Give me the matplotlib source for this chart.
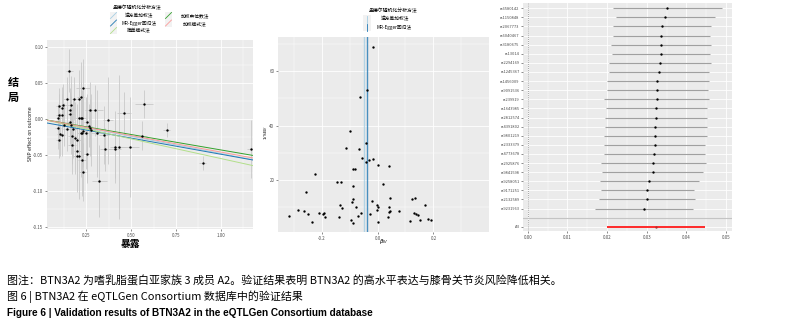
import matplotlib
matplotlib.use("Agg")
import matplotlib.pyplot as plt
import numpy as np
from matplotlib.lines import Line2D
from matplotlib.patches import Rectangle
from matplotlib import font_manager

plt.rcParams["font.family"] = ["Noto Sans CJK SC", "DejaVu Sans"]
plt.rcParams["axes.unicode_minus"] = False

W, H = 803, 331

# ---- scatter: SNP effect on exposure vs outcome ----
sc_bx = [0.157, 0.232, 0.143, 0.183, 0.209, 0.220, 0.124, 0.165, 0.098, 0.117,
         0.163, 0.272, 0.302, 0.572, 0.461, 0.098, 0.117, 0.163, 0.210, 0.220,
         0.230, 0.096, 0.161, 0.257, 0.265, 0.272, 0.372, 0.130, 0.166, 0.143,
         0.178, 0.094, 0.106, 0.117, 0.098, 0.172, 0.187, 0.202, 0.220, 0.228,
         0.235, 0.250, 0.276, 0.309, 0.350, 0.172, 0.202, 0.209, 0.198, 0.228,
         0.257, 0.232, 0.324, 0.357, 0.413, 0.413, 0.432, 0.494, 0.561, 0.698,
         0.898, 1.165]
sc_by = [0.067, 0.043, 0.028, 0.028, 0.028, 0.030, 0.019, 0.020, 0.018, 0.015,
         0.013, 0.012, 0.012, 0.021, 0.008, 0.005, 0.005, 0.007, 0.001, 0.001,
         0.001, 0.001, -0.0045, -0.0045, -0.009, -0.012, -0.002, -0.008, -0.008, -0.014,
         -0.014, -0.012, -0.021, -0.022, -0.029, -0.023, -0.026, -0.029, -0.020, -0.019,
         -0.017, -0.020, -0.015, -0.020, -0.022, -0.036, -0.045, -0.051, -0.051, -0.057,
         -0.049, -0.074, -0.086, -0.042, -0.039, -0.042, -0.039, -0.039, -0.023, -0.015,
         -0.061, -0.042]
sc_sx = [0.02, 0.04, 0.02, 0.02, 0.02, 0.02, 0.02, 0.02, 0.015, 0.015,
         0.02, 0.03, 0.04, 0.05, 0.04, 0.015, 0.015, 0.02, 0.02, 0.02,
         0.02, 0.015, 0.02, 0.02, 0.02, 0.03, 0.03, 0.02, 0.02, 0.02,
         0.02, 0.015, 0.015, 0.015, 0.015, 0.02, 0.02, 0.02, 0.02, 0.02,
         0.02, 0.02, 0.03, 0.03, 0.03, 0.02, 0.02, 0.02, 0.02, 0.02,
         0.02, 0.02, 0.04, 0.03, 0.03, 0.03, 0.04, 0.05, 0.03, 0.02,
         0.02, 0.02]
sc_sy = [0.03, 0.04, 0.03, 0.03, 0.04, 0.05, 0.03, 0.04, 0.025, 0.03,
         0.03, 0.04, 0.035, 0.02, 0.03, 0.03, 0.03, 0.03, 0.04, 0.05,
         0.04, 0.02, 0.03, 0.04, 0.03, 0.04, 0.06, 0.03, 0.04, 0.03,
         0.04, 0.03, 0.03, 0.03, 0.025, 0.04, 0.05, 0.05, 0.06, 0.05,
         0.05, 0.05, 0.05, 0.06, 0.04, 0.04, 0.04, 0.06, 0.05, 0.05,
         0.04, 0.04, 0.05, 0.03, 0.05, 0.04, 0.10, 0.07, 0.02, 0.01,
         0.01, 0.04]

# MR method lines (intercept, slope)
methods = ["逆方差加权法", "MR-Egger回归法", "简单模式法", "加权中位数法", "加权模式法"]
method_colors = ["#a6cee3", "#1f78b4", "#b2df8a", "#33a02c", "#fb9a99"]
method_icpt = [0.0, -0.004, 0.0, 0.0, 0.0]
method_slope = [-0.048, -0.045, -0.055, -0.043, -0.046]

sc_xticks = [0.25, 0.50, 0.75, 1.00]
sc_xlabels = ["0.25", "0.50", "0.75", "1.00"]
sc_yticks = [-0.15, -0.10, -0.05, 0.00, 0.05, 0.10]
sc_ylabels = ["-0.15", "-0.10", "-0.05", "0.00", "0.05", "0.10"]

# ---- funnel plot ----
fun_b = [-0.017, -0.038, -0.065, -0.099, -0.041, -0.114, -0.067, -0.057, -0.042, -0.032,
         -0.015, 0.000, 0.041, -0.090, -0.082, -0.224, -0.145, -0.130, -0.087, 0.019,
         -0.256, 0.046, -0.089, -0.093, -0.020, 0.123, 0.133, -0.134, -0.129, -0.076,
         -0.002, 0.001, 0.040, 0.044, 0.040, -0.004, 0.078, 0.170, -0.263, -0.249,
         -0.209, -0.197, -0.191, -0.189, -0.237, -0.140, -0.096, -0.090, -0.071, -0.061,
         -0.029, 0.000, 0.036, 0.130, 0.138, 0.146, 0.117, 0.153, 0.182, 0.190,
         -0.317, -0.286]
fun_w = [69.1, 53.0, 50.6, 37.9, 33.4, 31.6, 31.5, 28.1, 26.6, 27.3,
         27.8, 25.3, 25.0, 24.1, 24.1, 22.2, 19.0, 19.0, 17.8, 18.5,
         15.3, 13.4, 12.8, 11.8, 12.2, 12.8, 13.3, 10.7, 9.7, 10.1,
         10.5, 10.1, 10.1, 8.6, 8.1, 9.0, 8.6, 10.7, 8.3, 7.3,
         7.8, 7.4, 7.7, 6.1, 4.4, 6.2, 5.2, 4.1, 6.6, 7.8,
         7.3, 4.3, 6.1, 7.8, 7.3, 6.8, 4.8, 5.2, 5.6, 5.1,
         6.6, 8.8]
fun_methods = ["逆方差加权法", "MR-Egger回归法"]
fun_colors = ["#a6cee3", "#1f78b4"]
fun_est = [-0.0485, -0.0375]
fun_xticks = [-0.2, 0.0, 0.2]
fun_xlabels = ["-0.2", "0.0", "0.2"]
fun_yticks = [20, 40, 60]
fun_ylabels = ["20", "40", "60"]

# ---- forest plot ----
snp_labels = ["rs6580142", "rs1150848", "rs2067773", "rs6040467", "rs3180675",
              "rs13014", "rs2294169", "rs1245367", "rs1456009", "rs9091536",
              "rs239919", "rs1643985", "rs2812574", "rs4391802", "rs9801219",
              "rs2333379", "rs4773678", "rs2925876", "rs9841598", "rs9258051",
              "rs9171251", "rs2132589", "rs9231963"]
snp_b = [0.0352, 0.0346, 0.0338, 0.0337, 0.0336, 0.0335, 0.0333, 0.0331, 0.0327, 0.0326,
         0.0325, 0.0324, 0.0324, 0.0322, 0.0321, 0.0320, 0.0318, 0.0316, 0.0315, 0.0306,
         0.0301, 0.0300, 0.0292]
snp_lo = [0.0216, 0.0222, 0.0214, 0.0216, 0.0210, 0.0212, 0.0205, 0.0205, 0.0199, 0.0199,
          0.0193, 0.0197, 0.0196, 0.0195, 0.0193, 0.0193, 0.0191, 0.0185, 0.0187, 0.0182,
          0.0185, 0.0180, 0.0170]
snp_hi = [0.0489, 0.0472, 0.0463, 0.0459, 0.0463, 0.0459, 0.0461, 0.0457, 0.0457, 0.0454,
          0.0457, 0.0452, 0.0452, 0.0451, 0.0451, 0.0448, 0.0447, 0.0449, 0.0443, 0.0431,
          0.0419, 0.0421, 0.0416]
all_label = "All"
all_b, all_lo, all_hi = 0.0323, 0.0200, 0.0448
fo_xticks = [0.00, 0.01, 0.02, 0.03, 0.04, 0.05]
fo_xlabels = ["0.00", "0.01", "0.02", "0.03", "0.04", "0.05"]

caption_1 = "图注：BTN3A2 为嗜乳脂蛋白亚家族 3 成员 A2。验证结果表明 BTN3A2 的高水平表达与膝骨关节炎风险降低相关。"
caption_2 = "图 6 | BTN3A2 在 eQTLGen Consortium 数据库中的验证结果"
caption_3 = "Figure 6 | Validation results of BTN3A2 in the eQTLGen Consortium database"


def box(x0, y0, x1, y1):
    return [x0 / W, 1 - y1 / H, (x1 - x0) / W, (y1 - y0) / H]


def fp(px, py):
    return px / W, 1 - py / H


def gg_style(ax, xt, xl, yt, yl, xminor, yminor):
    ax.set_facecolor("#EBEBEB")
    for s in ax.spines.values():
        s.set_visible(False)
    ax.set_xticks(xt, xl)
    ax.set_yticks(yt, yl)
    ax.set_xticks(xminor, minor=True)
    ax.set_yticks(yminor, minor=True)
    ax.grid(which="major", color="white", lw=0.6)
    ax.grid(which="minor", color="white", lw=0.3)
    ax.set_axisbelow(True)
    ax.tick_params(which="minor", length=0)
    ax.tick_params(which="major", length=1.6, width=0.4, color="#333333",
                   labelsize=3.2, labelcolor="#4D4D4D", pad=1)


def legend_key(fig, x0, y0, s, color, kind):
    fig.add_artist(Rectangle(fp(x0, y0 + s), s / W, s / H, transform=fig.transFigure,
                             facecolor="#F2F2F2", edgecolor="none"))
    if kind == "diag":
        xs, ys = [x0 + 0.5, x0 + s - 0.5], [y0 + s - 0.5, y0 + 0.5]
    else:
        xs, ys = [x0 + s / 2, x0 + s / 2], [y0 + 0.5, y0 + s - 0.5]
    fig.add_artist(Line2D([x / W for x in xs], [1 - y / H for y in ys],
                          transform=fig.transFigure, color=color, lw=0.6))


fig = plt.figure(figsize=(W / 100, H / 100), dpi=100)

# ---------------- left: scatter ----------------
ax1 = fig.add_axes(box(47, 40, 253, 229))
gg_style(ax1, sc_xticks, sc_xlabels, sc_yticks, sc_ylabels,
         [0.125, 0.375, 0.625, 0.875, 1.125],
         [-0.125, -0.075, -0.025, 0.025, 0.075])
ax1.errorbar(sc_bx, sc_by, xerr=sc_sx, yerr=sc_sy, fmt="none", ecolor="#c9c9c9",
             elinewidth=0.6, capsize=0, zorder=2)
for m, c, a, b in zip(methods, method_colors, method_icpt, method_slope):
    ax1.axline((0, a), slope=b, color=c, lw=0.7, zorder=3)
ax1.plot(sc_bx, sc_by, "o", color="black", ms=1.7, mew=0, zorder=4)
ax1.set_xlim(0.033, 1.178)
ax1.set_ylim(-0.153, 0.11)

fig.text(*fp(31, 134), "SNP effect on outcome", rotation=90, ha="center", va="center",
         fontsize=3.4, color="#222222", family=["DejaVu Sans"])
fig.text(*fp(13, 90), "结\n局", ha="center", va="center", fontsize=8,
         fontweight="bold", linespacing=1.25)
fig.text(*fp(130, 244), "暴露", ha="center", va="center", fontsize=7, fontweight="bold")

# legend for scatter
fig.text(*fp(137, 7.5), "孟德尔随机化分析方法", ha="center", va="center", fontsize=3.5)
leg_pos = [(110, 12, 139, 16), (110, 19.5, 139, 23.5), (110, 27, 139, 31),
           (165, 12, 195, 16), (165, 19.5, 195, 23.5)]
for m, c, (kx, ky, tx, ty) in zip(methods, method_colors, leg_pos):
    legend_key(fig, kx, ky, 7, c, "diag")
    fig.text(*fp(tx, ty), m, ha="center", va="center", fontsize=3.4)

# ---------------- middle: funnel ----------------
ax2 = fig.add_axes(box(278, 37, 489, 232))
gg_style(ax2, fun_xticks, fun_xlabels, fun_yticks, fun_ylabels,
         [-0.3, -0.1, 0.1, 0.3], [10, 30, 50, 70])
for m, c, e in zip(fun_methods, fun_colors, fun_est):
    ax2.axvline(e, color=c, lw=1.0, alpha=0.8, zorder=2)
ax2.plot(fun_b, fun_w, "o", color="black", ms=1.7, mew=0, zorder=4)
ax2.set_xlim(-0.358, 0.40)
ax2.set_ylim(0.7, 72.7)
fig.text(*fp(384, 241), r"$\beta_{IV}$", ha="center", va="center", fontsize=4)
fig.text(*fp(266.5, 132), r"1/SE$_{IV}$", rotation=90, ha="center", va="center",
         fontsize=3.2, family=["DejaVu Sans"])

fig.text(*fp(393, 10), "孟德尔随机化分析方法", ha="center", va="center", fontsize=3.5)
fun_leg = [(363, 15, 395, 19), (363, 23, 394, 27)]
for m, c, (kx, ky, tx, ty) in zip(fun_methods, fun_colors, fun_leg):
    legend_key(fig, kx, ky, 8, c, "vert")
    fig.text(*fp(tx, ty), m, ha="center", va="center", fontsize=3.4)

# ---------------- right: forest ----------------
ax3 = fig.add_axes(box(523, 3, 732, 231))
n = len(snp_labels)
rows = -np.arange(n)
all_row = -(n + 1)
gg_style(ax3, fo_xticks, fo_xlabels, list(rows) + [all_row], snp_labels + [all_label],
         [0.005, 0.015, 0.025, 0.035, 0.045], [])
ax3.axvline(0, color="#888888", lw=0.6, ls=(0, (1, 1.5)), zorder=2)
ax3.axhline(-n, color="#c4c4c4", lw=0.8, zorder=2)
ax3.hlines(rows, snp_lo, snp_hi, color="#a0a0a0", lw=0.8, zorder=3)
ax3.plot(snp_b, rows, "o", color="black", ms=1.7, mew=0, zorder=4)
ax3.hlines([all_row], [all_lo], [all_hi], color="#ff1a1a", lw=1.3, zorder=3)
ax3.plot([all_b], [all_row], "o", color="#b03030", ms=1.7, mew=0, zorder=4)
ax3.set_xlim(-0.0012, 0.0515)
ax3.set_ylim(-24.47, 0.58)
ax3.tick_params(axis="y", labelsize=2.9)

# ---------------- caption ----------------
fig.text(*fp(7, 281), caption_1, ha="left", va="center", fontsize=7.9)
fig.text(*fp(7, 297), caption_2, ha="left", va="center", fontsize=7.9)
narrow = [f.name for f in font_manager.fontManager.ttflist if f.name == "Liberation Sans Narrow"]
cap3_family = ["Liberation Sans Narrow"] if narrow else ["Liberation Sans"]
fig.text(*fp(7, 313), caption_3, ha="left", va="center", fontsize=8.3 if narrow else 7.2,
         fontweight="bold", family=cap3_family)

fig.savefig("out.png", dpi=100)
